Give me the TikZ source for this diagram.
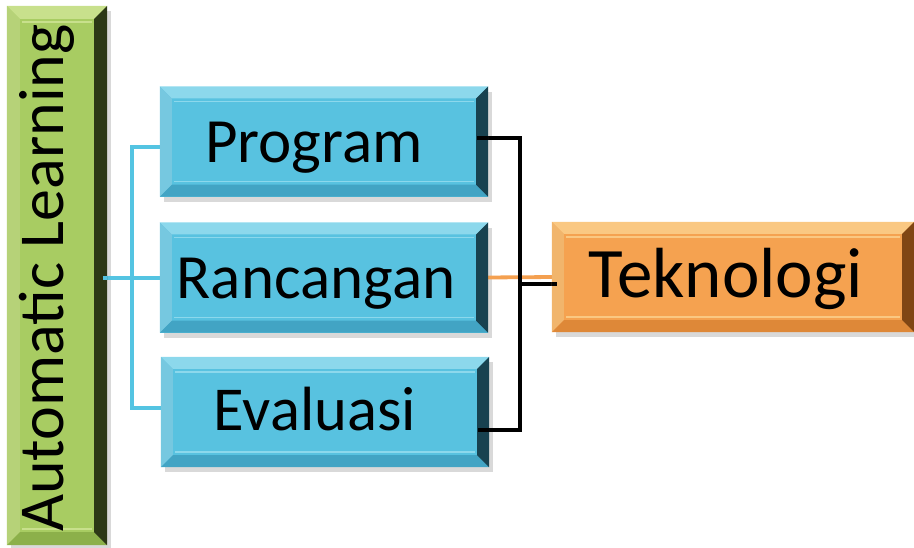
\documentclass[tikz,border=0pt]{standalone}
\usepackage{fontspec}
\setmainfont{Carlito}
\usetikzlibrary{calc,shadows}
\definecolor{bluebase}{RGB}{88,194,224}
\definecolor{bluedark}{RGB}{24,66,80}
\definecolor{bluelight}{RGB}{140,216,236}
\definecolor{bluemid}{RGB}{66,164,196}
\definecolor{greenbase}{RGB}{168,204,98}
\definecolor{greendark}{RGB}{44,56,22}
\definecolor{greenlight}{RGB}{200,224,140}
\definecolor{greenmid}{RGB}{140,176,74}
\definecolor{orangebase}{RGB}{245,162,80}
\definecolor{orangedark}{RGB}{128,70,20}
\definecolor{orangelight}{RGB}{250,200,130}
\definecolor{orangemid}{RGB}{222,136,56}
\definecolor{linkblue}{RGB}{84,196,226}
\definecolor{linkorange}{RGB}{244,160,80}
\newcommand\bevelbox[5]{%
  % #1 node name, #2 dark, #3 light, #4 mid, #5 bevel width
  \fill[#3] (#1.north west) -- (#1.north east) -- ($(#1.north east)+(-#5,#5)$) -- ($(#1.north west)+(#5,#5)$) -- cycle;
  \fill[#3!70!#4] (#1.north west) -- ($(#1.north west)+(#5,#5)$) -- ($(#1.south west)+(#5,-#5)$) -- (#1.south west) -- cycle;
  \fill[#4] (#1.south west) -- ($(#1.south west)+(#5,-#5)$) -- ($(#1.south east)+(-#5,-#5)$) -- (#1.south east) -- cycle;
  \fill[#2] (#1.north east) -- (#1.south east) -- ($(#1.south east)+(-#5,-#5)$) -- ($(#1.north east)+(-#5,#5)$) -- cycle;
  \draw[#3, line width=1.5pt] ($(#1.north west)+(#5+2,#5+3)$) -- ($(#1.north east)+(-#5-2,#5+3)$);
  \draw[#3, line width=1.5pt] ($(#1.south west)+(#5+2,-#5-3)$) -- ($(#1.south east)+(-#5-2,-#5-3)$);
}
\begin{document}
\begin{tikzpicture}[x=1pt,y=-1pt,
  box/.style={rectangle, inner sep=0pt, draw=none,
    drop shadow={shadow xshift=4pt, shadow yshift=-5pt, opacity=.3}},
  bluebox/.style={box, fill=bluebase, minimum width=328pt, minimum height=110pt},
  greenbox/.style={box, fill=greenbase, minimum width=100pt, minimum height=539pt},
  orangebox/.style={box, fill=orangebase, minimum width=362pt, minimum height=110pt},
  lbl/.style={inner sep=0pt, anchor=base, font=\fontsize{63pt}{63pt}\selectfont},
  bline/.style={draw=linkblue, line width=3.8pt},
  kline/.style={draw=black, line width=4.5pt},
  oline/.style={draw=linkorange, line width=3.8pt}
]
\useasboundingbox (0,0) rectangle (914,547);

\coordinate (jb) at (132,278);
\coordinate (jk) at (520,284);

\node[greenbox] (auto) at (57,275.5) {};
\node[bluebox] (prog) at (324,141.5) {};
\node[bluebox] (ranc) at (324,277.5) {};
\node[bluebox] (eval) at (325,412) {};
\node[orangebox] (tek) at (733,277) {};

% lines
\draw[bline] ([xshift=-4pt]auto.east |- jb) -- (jb);
\draw[bline] ([xshift=2pt,yshift=-5.5pt]prog.west) -| (jb) |- ([xshift=2pt,yshift=4pt]eval.west);
\draw[bline] (jb) -- ([xshift=2pt]ranc.west |- jb);
\draw[oline] ([xshift=-2pt]ranc.east) -- ([xshift=2pt]tek.west);
\draw[kline] ([xshift=-11pt,yshift=3.5pt]prog.east) -| (jk) |- ([xshift=-11pt,yshift=-18pt]eval.east);
\draw[kline] (jk) -- ([xshift=5pt]tek.west |- jk);

\bevelbox{auto}{greendark}{greenlight}{greenmid}{13}
\bevelbox{prog}{bluedark}{bluelight}{bluemid}{12}
\bevelbox{ranc}{bluedark}{bluelight}{bluemid}{12}
\bevelbox{eval}{bluedark}{bluelight}{bluemid}{12}
\bevelbox{tek}{orangedark}{orangelight}{orangemid}{12}

% connector ends that sit on the boxes
\draw[kline] ([xshift=-11pt,yshift=3.5pt]prog.east) -- (prog.east |- 0,138);
\draw[kline] ([xshift=-11pt,yshift=-18pt]eval.east) -- (eval.east |- 0,430);
\draw[kline] (tek.west |- jk) -- ([xshift=5pt]tek.west |- jk);
\draw[bline] ([xshift=-4pt]auto.east |- jb) -- (auto.east |- jb);

% texts
\node[lbl, rotate=90, font=\fontsize{64pt}{64pt}\selectfont] (autot) at (63,278) {Automatic Learning};
\node[lbl] (progt) at (314,162) {Program};
\node[lbl] (ranct) at (316,298) {Rancangan};
\node[lbl, font=\fontsize{62.5pt}{62.5pt}\selectfont] (evalt) at (315,430) {Evaluasi};
\node[lbl, font=\fontsize{71pt}{71pt}\selectfont] (tekt) at (726,297) {Teknologi};
\end{tikzpicture}
\end{document}
